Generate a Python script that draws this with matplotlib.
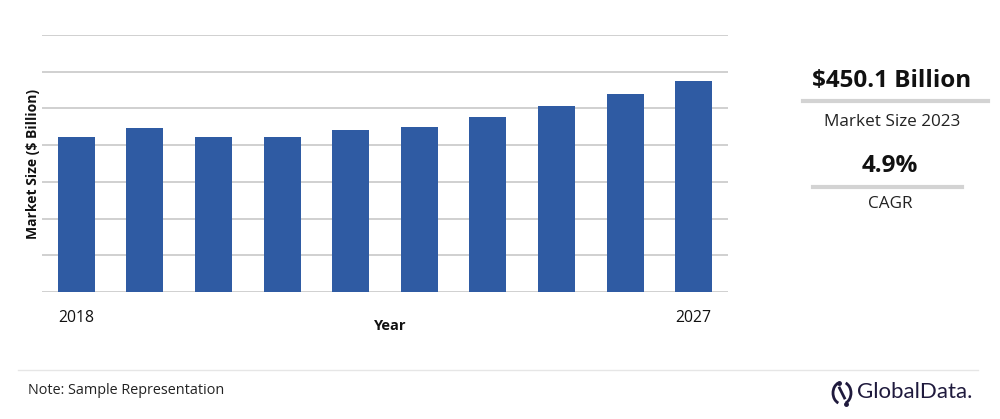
import matplotlib
matplotlib.use("Agg")
import matplotlib.pyplot as plt
from matplotlib.patches import Arc
from matplotlib.lines import Line2D

plt.rcParams['font.family'] = ['Open Sans', 'DejaVu Sans']

years = [2018, 2019, 2020, 2021, 2022, 2023, 2024, 2025, 2026, 2027]
market_size = [423, 447, 423, 423, 441, 450.1, 478, 507, 540, 574]
shown_ticks = ["2018", "2027"]
headline_value = "$450.1 Billion"
headline_label = "Market Size 2023"
cagr_value = "4.9%"
cagr_label = "CAGR"
note_text = "Note: Sample Representation"

W, H = 1000, 419
fig = plt.figure(figsize=(W / 100, H / 100), dpi=100)

def fx(px):
    return px / W

def fy(py):
    return 1 - py / H

ax = fig.add_axes([fx(42), fy(292), fx(728) - fx(42), fy(35) - fy(292)])
x = list(range(len(years)))
ax.bar(x, market_size, width=0.54, color="#2f5ba3", zorder=3)
ax.set_xlim(-0.5, len(years) - 0.5)
ax.set_ylim(0, 700)
ax.set_yticks(range(0, 701, 100))
ax.yaxis.grid(True, color="#d0d0d0", linewidth=1.4, zorder=0)
ax.tick_params(axis="y", length=0, labelleft=False)
ax.tick_params(axis="x", length=0, pad=13, labelsize=11.3, colors="#111111")
ax.set_xticks([x[0], x[-1]])
ax.set_xticklabels(shown_ticks)
for s in ax.spines.values():
    s.set_visible(False)
ax.set_xlabel("Year", fontsize=10.5, fontweight="bold", labelpad=0, color="#111111")
ax.xaxis.set_label_coords((390 - 42) / (728 - 42), (292 - 319) / (292 - 35))
ax.set_ylabel("Market Size ($ Billion)", fontsize=10, fontweight="bold", color="#111111")
ax.yaxis.set_label_coords((40 - 42) / (728 - 42), 0.5)

# right panel
fig.text(fx(892), fy(81), headline_value, ha="center", va="center",
         fontsize=17.5, fontweight="bold", color="#111111")
fig.add_artist(Line2D([fx(803), fx(988)], [fy(101.5), fy(101.5)], color="#d3d3d3", linewidth=3))
fig.text(fx(892), fy(122), headline_label, ha="center", va="center",
         fontsize=12.3, color="#222222")
fig.text(fx(890), fy(166), cagr_value, ha="center", va="center",
         fontsize=17.5, fontweight="bold", color="#111111")
fig.add_artist(Line2D([fx(813), fx(962)], [fy(186.5), fy(186.5)], color="#d3d3d3", linewidth=3))
fig.text(fx(890), fy(204), cagr_label, ha="center", va="center",
         fontsize=12.3, color="#222222")

# footer
fig.add_artist(Line2D([fx(18), fx(978)], [fy(370), fy(370)], color="#e6e6e6", linewidth=1))
fig.text(fx(28), fy(390), note_text, ha="left", va="center", fontsize=10.4, color="#222222")

logo_color = "#1f1a3d"
fig.text(fx(857), fy(392), "GlobalData.", ha="left", va="center",
         fontsize=16, color=logo_color, family=["Lato", "DejaVu Sans"])
cx, cy = 842, 393
ax_logo = fig.add_axes([fx(cx - 14), fy(cy + 14), fx(28), 28 / H])
ax_logo.set_xlim(-14, 14)
ax_logo.set_ylim(-14, 14)
ax_logo.axis("off")
ax_logo.add_patch(Arc((0, 0), 18, 22, theta1=110, theta2=250, color=logo_color, linewidth=2))
ax_logo.add_patch(Arc((0, 0), 18, 22, theta1=-70, theta2=70, color=logo_color, linewidth=2))
ax_logo.plot([-2.5, 2.5], [5, -5], color=logo_color, linewidth=2)
ax_logo.plot([-3.5, 3.5], [10.5, -10.5], "o", color=logo_color, markersize=2.5)

fig.savefig("out.png", dpi=100, facecolor="white")
